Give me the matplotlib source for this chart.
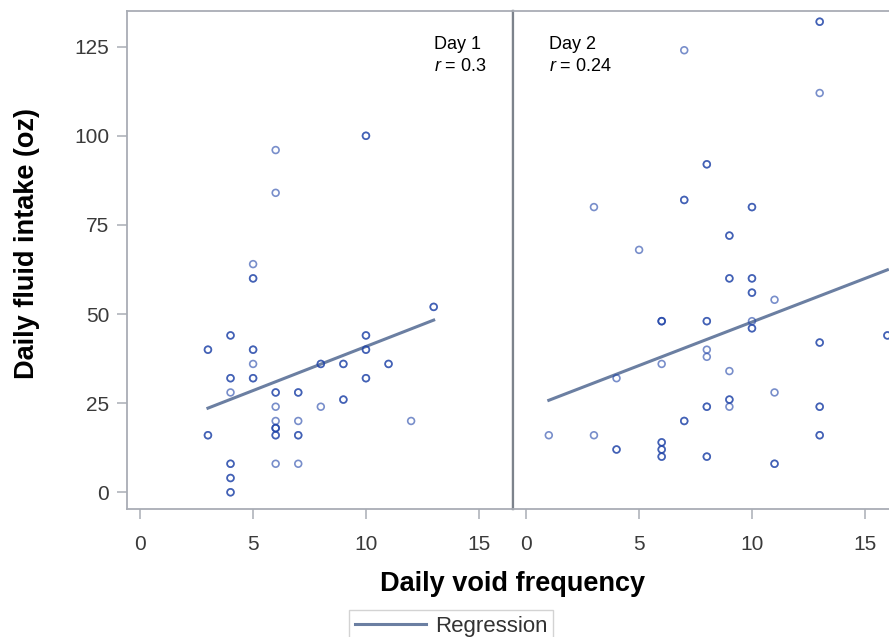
import matplotlib
matplotlib.use('Agg')
import matplotlib.pyplot as plt
from matplotlib.lines import Line2D

plt.rcParams['font.family'] = ['Liberation Sans', 'DejaVu Sans']
plt.rcParams['mathtext.fontset'] = 'custom'
plt.rcParams['mathtext.rm'] = 'Liberation Sans'
plt.rcParams['mathtext.it'] = 'Liberation Sans:italic'

# Day 1 (repeated entries = several subjects on the same point)
day1_x = [6, 6, 5, 5, 4, 6, 8, 12, 6, 7, 6, 7,
          10, 10, 5, 5, 13, 13, 4, 4, 3, 3, 5, 5, 8, 8, 9, 9, 10, 10,
          10, 10, 11, 11, 4, 4, 5, 5, 10, 10, 6, 6, 7, 7, 9, 9,
          6, 6, 6, 3, 3, 6, 6, 7, 7, 4, 4, 4, 4, 4, 4]
day1_y = [96, 84, 64, 36, 28, 24, 24, 20, 20, 20, 8, 8,
          100, 100, 60, 60, 52, 52, 44, 44, 40, 40, 40, 40, 36, 36, 36, 36, 44, 44,
          40, 40, 36, 36, 32, 32, 32, 32, 32, 32, 28, 28, 28, 28, 26, 26,
          18, 18, 18, 16, 16, 16, 16, 16, 16, 8, 8, 4, 4, 0, 0]

# Day 2
day2_x = [7, 13, 3, 5, 11, 10, 8, 8, 6, 4, 9, 11, 9, 1, 3,
          13, 13, 8, 8, 7, 7, 10, 10, 9, 9, 9, 9, 10, 10, 10, 10,
          6, 6, 6, 8, 8, 10, 10, 13, 13, 16, 16, 9, 9, 8, 8, 13, 13,
          7, 7, 13, 13, 4, 4, 6, 6, 6, 6, 6, 6, 8, 8, 11, 11]
day2_y = [124, 112, 80, 68, 54, 48, 40, 38, 36, 32, 34, 28, 24, 16, 16,
          132, 132, 92, 92, 82, 82, 80, 80, 72, 72, 60, 60, 60, 60, 56, 56,
          48, 48, 48, 48, 48, 46, 46, 42, 42, 44, 44, 26, 26, 24, 24, 24, 24,
          20, 20, 16, 16, 12, 12, 14, 14, 12, 12, 10, 10, 10, 10, 8, 8]

# regression lines
fit1_x = [3, 13]
fit1_y = [23.6, 48.3]
fit2_x = [1, 16]
fit2_y = [25.8, 62.4]

r_values = ['0.3', '0.24']
x_ticks = [0, 5, 10, 15]
y_ticks = [0, 25, 50, 75, 100, 125]

marker_col = '#1f43a8'
line_col = '#6b7fa2'
frame_col = '#a9adb5'

fig = plt.figure(figsize=(8.89, 6.37), dpi=100)
ax1 = fig.add_axes([0.1425, 0.2009, 0.4342, 0.7818])
ax2 = fig.add_axes([0.5767, 0.2009, 0.4342, 0.7818])

panels = [(ax1, day1_x, day1_y, fit1_x, fit1_y), (ax2, day2_x, day2_y, fit2_x, fit2_y)]
for ax, xs, ys, fx, fy in panels:
    ax.plot(fx, fy, color=line_col, lw=2.2, zorder=2)
    ax.scatter(xs, ys, s=24, facecolors='none', edgecolors=marker_col,
               linewidths=1.2, alpha=0.6, zorder=3)
    ax.set_xlim(-0.6, 16.5)
    ax.set_ylim(-4.7, 135.0)
    ax.set_xticks(x_ticks)
    ax.set_yticks(y_ticks)
    for sp in ax.spines.values():
        sp.set_color(frame_col)
        sp.set_linewidth(1.3)
    ax.tick_params(axis='both', colors=frame_col, labelcolor='#3a3a3a',
                   labelsize=15, length=7.5, width=1.1)
    ax.tick_params(axis='x', pad=11)
    ax.tick_params(axis='y', pad=5)

ax1.spines['right'].set_color('#7d838c')
ax1.spines['right'].set_linewidth(1.6)
ax2.spines['left'].set_color('#7d838c')
ax2.spines['left'].set_linewidth(1.6)
ax2.tick_params(axis='y', left=False, labelleft=False)

ax1.text(0.797, 0.924, 'Day 1', transform=ax1.transAxes, fontsize=13, va='baseline')
ax1.text(0.797, 0.8795, '$r$ = ' + r_values[0], transform=ax1.transAxes,
         fontsize=13, va='baseline')
ax2.text(0.0935, 0.924, 'Day 2', transform=ax2.transAxes, fontsize=13, va='baseline')
ax2.text(0.0935, 0.8795, '$r$ = ' + r_values[1], transform=ax2.transAxes,
         fontsize=13, va='baseline')

fig.text(0.5767, 0.083, 'Daily void frequency', fontsize=19.5, fontweight='bold',
         ha='center', va='center')
fig.text(0.030, 0.618, 'Daily fluid intake (oz)', fontsize=19.5, fontweight='bold',
         rotation=90, ha='center', va='center')

handle = Line2D([], [], color=line_col, lw=2.2)
leg = fig.legend([handle], ['Regression'], loc='upper center',
                 bbox_to_anchor=(451 / 889, (637 - 610) / 637), fontsize=16,
                 frameon=True, fancybox=False, borderpad=0.25, handlelength=3.2,
                 handletextpad=0.4, borderaxespad=0)
leg.get_frame().set_edgecolor('#c8c8c8')
leg.get_frame().set_linewidth(1.0)
for t in leg.get_texts():
    t.set_color('#333333')

fig.savefig('out.png', dpi=100)
